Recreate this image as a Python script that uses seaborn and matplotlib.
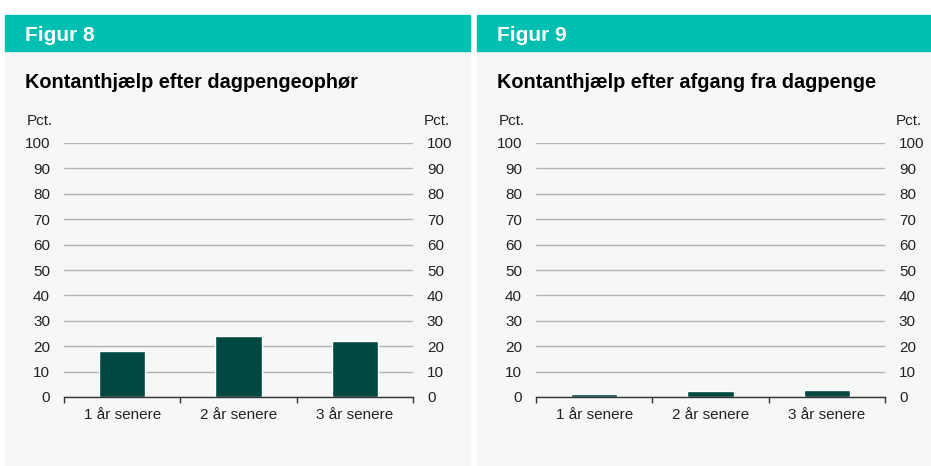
import pandas as pd
import matplotlib.pyplot as plt
import seaborn as sns
from matplotlib.patches import Rectangle

# Data
categories = ['1 år senere', '2 år senere', '3 år senere']
fig8_values = [18.1, 24.1, 21.9]
fig9_values = [1.3, 2.4, 2.9]
yticks = list(range(0, 101, 10))

headers = ['Figur 8', 'Figur 9']
titles = ['Kontanthjælp efter dagpengeophør', 'Kontanthjælp efter afgang fra dagpenge']

teal = '#00BFB0'
bar_color = '#004840'
panel_bg = '#F6F8F7'

sns.set_theme(style='white')
plt.rcParams['font.family'] = ['Liberation Sans', 'DejaVu Sans']

W, H = 931, 466
fig = plt.figure(figsize=(W / 100, H / 100), dpi=100)
fig.patch.set_facecolor('white')


def px_box(x0, y0, x1, y1):
    # pixel coordinates (top-left origin) -> figure fraction
    return [x0 / W, 1 - y1 / H, (x1 - x0) / W, (y1 - y0) / H]


panels = [
    dict(px=(5, 470), ax=(64, 413), vals=fig8_values),
    dict(px=(477, 931), ax=(536, 885), vals=fig9_values),
]

for i, p in enumerate(panels):
    x0, x1 = p['px']
    # panel background and header band
    fig.patches.append(Rectangle((x0 / W, 0), (x1 - x0) / W, 1 - 51 / H,
                                 transform=fig.transFigure, color=panel_bg, zorder=-5))
    fig.patches.append(Rectangle((x0 / W, 1 - 51 / H), (x1 - x0) / W, 36 / H,
                                 transform=fig.transFigure, color=teal, zorder=-5))
    fig.text((x0 + 20) / W, 1 - 41 / H, headers[i], color='white',
             fontsize=15, fontweight='bold', va='baseline')
    fig.text((x0 + 20) / W, 1 - 88 / H, titles[i], color='black',
             fontsize=14.3, fontweight='bold', va='baseline')

    ax0, ax1 = p['ax']
    ax = fig.add_axes(px_box(ax0, 143, ax1, 397))
    ax.set_zorder(2)
    ax.set_facecolor('none')
    df = pd.DataFrame({'kategori': categories, 'pct': p['vals']})
    sns.barplot(data=df, x='kategori', y='pct', color=bar_color, width=0.4,
                saturation=1, ax=ax, zorder=3)
    ax.set_ylim(0, 100)
    ax.set_xlim(-0.5, 2.5)
    ax.set_yticks(yticks)
    ax.set_yticklabels([str(t) for t in yticks])
    ax.yaxis.grid(True, color='#b3b3b3', linewidth=1)
    ax.set_axisbelow(True)
    for s in ['top', 'left', 'right']:
        ax.spines[s].set_visible(False)
    ax.spines['bottom'].set_color('#333333')
    ax.spines['bottom'].set_linewidth(1)
    ax.spines['bottom'].set_zorder(4)
    ax.tick_params(axis='y', length=0, labelsize=11, pad=10,
                   labelleft=True, labelright=True, colors='#222222')
    ax.set_xticks([-0.5, 0.5, 1.5, 2.5], minor=True)
    ax.set_xticks([0, 1, 2])
    ax.set_xticklabels(categories)
    ax.tick_params(axis='x', which='major', length=0, labelsize=11, pad=8,
                   colors='#222222')
    ax.tick_params(axis='x', which='minor', length=4, width=1, color='#333333',
                   direction='out', bottom=True)
    ax.set_xlabel('')
    ax.set_ylabel('')
    fig.text((ax0 - 37) / W, 1 - 125 / H, 'Pct.', fontsize=11, va='baseline',
             color='#222222')
    fig.text((ax1 + 11) / W, 1 - 125 / H, 'Pct.', fontsize=11, va='baseline',
             color='#222222')

fig.savefig('out.png', dpi=100, facecolor=fig.get_facecolor())
